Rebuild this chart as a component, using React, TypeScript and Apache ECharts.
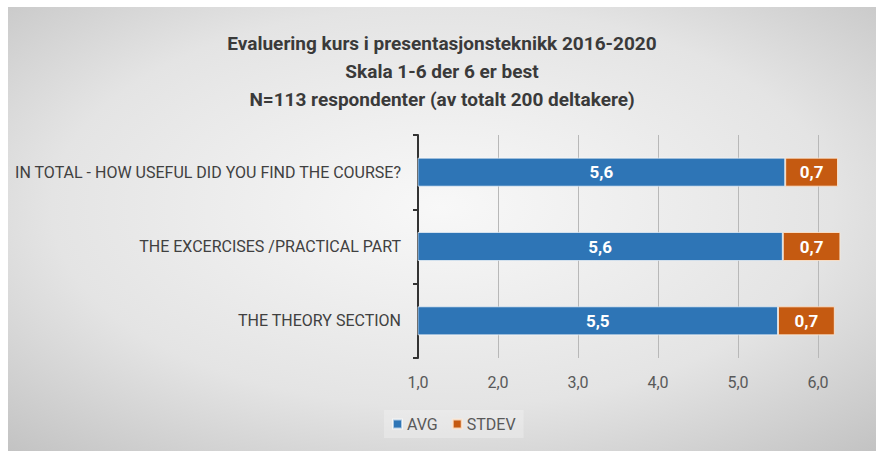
import React, { useEffect, useRef } from "react";
import * as echarts from "echarts";

const categories = [
  "IN TOTAL - HOW USEFUL DID YOU FIND THE COURSE?",
  "THE EXCERCISES /PRACTICAL PART",
  "THE THEORY SECTION",
];
const avgValues = [5.59, 5.56, 5.5];
const stdevValues = [0.66, 0.72, 0.71];
const titleLines = [
  "Evaluering kurs i presentasjonsteknikk 2016-2020",
  "Skala 1-6 der 6 er best",
  "N=113 respondenter (av totalt 200 deltakere)",
];
const seriesNames = ["AVG", "STDEV"];

const FONT = "Roboto, 'Open Sans', sans-serif";

const fmt = (v: number) => v.toFixed(1).replace(".", ",");

export default function App() {
  const ref = useRef<HTMLDivElement>(null);
  useEffect(() => {
    if (!ref.current) return;
    const chart = echarts.init(ref.current, undefined, { renderer: "svg" });
    chart.setOption({
      animation: false,
      backgroundColor: {
        type: "radial",
        x: 0.5,
        y: 0.45,
        r: 0.75,
        colorStops: [
          { offset: 0, color: "#f8f8f8" },
          { offset: 0.6, color: "#e4e4e4" },
          { offset: 1, color: "#c2c2c2" },
        ],
      },
      title: {
        text: titleLines.join("\n"),
        left: "center",
        top: 17,
        textStyle: {
          fontFamily: FONT,
          fontSize: 19,
          fontWeight: "bold",
          lineHeight: 28,
          color: "#3a3a3a",
        },
      },
      legend: {
        left: 376,
        top: 403,
        itemWidth: 9,
        itemHeight: 9,
        itemGap: 14,
        icon: "rect",
        backgroundColor: "rgba(255,255,255,0.25)",
        padding: [6, 8, 6, 8],
        textStyle: { fontFamily: FONT, fontSize: 16, color: "#595959" },
        data: seriesNames,
      },
      grid: { left: 410, top: 128, right: 34, bottom: 93, containLabel: false },
      xAxis: {
        type: "value",
        min: 1,
        max: 6.3,
        interval: 1,
        axisLine: { show: false },
        axisTick: { show: false },
        splitLine: {
          show: true,
          showMaxLine: false,
          showMinLine: false,
          lineStyle: { color: "#b8b8b8", width: 1 },
        },
        axisLabel: {
          showMaxLabel: false,
          margin: 16,
          fontFamily: FONT,
          fontSize: 16,
          color: "#595959",
          formatter: (v: number) => fmt(v),
        },
      },
      yAxis: {
        type: "category",
        inverse: true,
        data: categories,
        axisLine: { show: true, lineStyle: { color: "#333333", width: 2 } },
        axisTick: { show: true, length: 5, lineStyle: { color: "#333333", width: 2 } },
        axisLabel: {
          margin: 17,
          fontFamily: FONT,
          fontSize: 16,
          color: "#404040",
        },
      },
      series: [
        {
          name: seriesNames[0],
          type: "bar",
          stack: "total",
          barWidth: 29,
          data: avgValues,
          itemStyle: {
            color: "#2E75B6",
            borderColor: "rgba(255,255,255,0.6)",
            borderWidth: 1,
          },
          label: {
            show: true,
            position: "inside",
            color: "#ffffff",
            fontFamily: FONT,
            fontWeight: "bold",
            fontSize: 17,
            formatter: (p: any) => fmt(p.value),
          },
        },
        {
          name: seriesNames[1],
          type: "bar",
          stack: "total",
          barWidth: 29,
          data: stdevValues,
          itemStyle: {
            color: "#C55A11",
            borderColor: "rgba(255,235,215,0.8)",
            borderWidth: 1,
          },
          label: {
            show: true,
            position: "inside",
            color: "#ffffff",
            fontFamily: FONT,
            fontWeight: "bold",
            fontSize: 17,
            formatter: (p: any) => fmt(p.value),
          },
        },
      ],
    });
    return () => chart.dispose();
  }, []);
  return (
    <div style={{ position: "fixed", left: 0, top: 0, width: 876, height: 451, background: "#ffffff" }}>
      <div
        ref={ref}
        style={{ position: "absolute", left: 8, top: 7, width: 868, height: 444 }}
      />
    </div>
  );
}
